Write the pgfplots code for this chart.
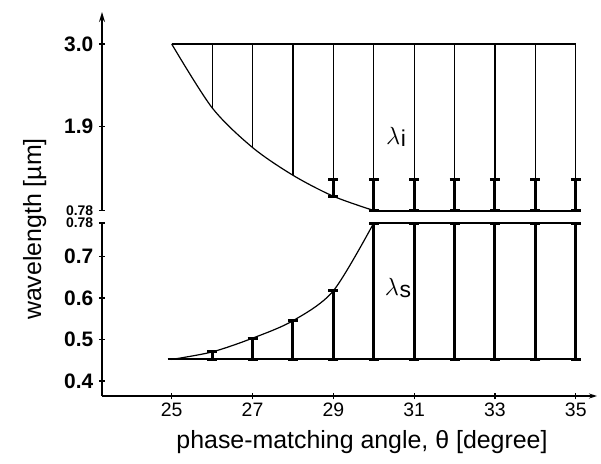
\documentclass[border=0pt]{standalone}
\usepackage{fontspec}
\setmainfont{Liberation Sans}
\usepackage{pgfplots}
\pgfplotsset{compat=1.18}
\usetikzlibrary{arrows.meta}

\pgfplotsset{
  common/.style={
    scale only axis,
    xmin=23.275, xmax=35.525,
    width=495bp,
    clip=false,
    tick align=center,
    major tick length=6.5bp,
    every tick/.style={black, line width=1.3bp},
    axis line style={line width=1.5bp, black},
    yticklabel style={font=\bfseries\fontsize{21}{24}\selectfont, xshift=-2bp},
    xticklabel style={font=\fontsize{19.5}{22}\selectfont},
  },
  ibar/.style={draw=none, mark=none,
    error bars/.cd, y dir=both, y explicit,
    error bar style={draw=black, line width=3bp},
    error mark options={draw=black, rotate=90, mark size=5bp, line width=3bp}},
  vline/.style={draw=none, mark=none,
    error bars/.cd, y dir=minus, y explicit, error mark=none,
    error bar style={draw=black, line width=1.2bp}},
}

\begin{document}
\begin{tikzpicture}[x=1bp,y=1bp]
\path[use as bounding box] (0,0) rectangle (601,-464);

% upper panel: idler
\begin{axis}[common,
  at={(102bp,-210.5bp)}, anchor=south west,
  ymin=0.78, ymax=3.427, height=198.5bp,
  axis x line=none, axis y line=left,
  y axis line style={-{Stealth[length=10bp,width=6bp]}},
  xtick=\empty,
  ytick={0.78,1.9,3.0},
  yticklabels={{\fontsize{14}{15}\selectfont 0.78},1.9,3.0},
]
\addplot[black, line width=1.2bp] coordinates {(25,3.0) (35,3.0)};
\addplot[black, line width=1.2bp, smooth] coordinates {(25,3.0) (26,2.15) (27,1.62) (28,1.25) (29,0.97) (30,0.78)};
\addplot[black, line width=2bp] coordinates {(30,0.78) (35,0.78)};
\addplot[vline] coordinates {
  (26,3.0) -= (0,0.85)
  (27,3.0) -= (0,1.38)
  (28,3.0) -= (0,1.75)
  (29,3.0) -= (0,1.8)
  (30,3.0) -= (0,1.8)
  (31,3.0) -= (0,1.8)
  (32,3.0) -= (0,1.8)
  (33,3.0) -= (0,1.8)
  (34,3.0) -= (0,1.8)
  (35,3.0) -= (0,1.8)
};
\addplot[ibar] coordinates {
  (29,1.085) +- (0,0.115)
  (30,0.99) +- (0,0.21)
  (31,0.99) +- (0,0.21)
  (32,0.99) +- (0,0.21)
  (33,0.99) +- (0,0.21)
  (34,0.99) +- (0,0.21)
  (35,0.99) +- (0,0.21)
};
\node[font=\fontsize{26}{28}\selectfont] at (axis cs:30.55,1.76) {$\lambda$\kern0.5bp\raisebox{-2.5bp}{\fontsize{23}{25}\selectfont i}};
\end{axis}

% lower panel: signal
\begin{axis}[common,
  at={(102bp,-396bp)}, anchor=south west,
  ymin=0.364, ymax=0.78, height=173bp,
  axis x line=bottom, axis y line=left,
  y axis line style={-},
  x axis line style={-{Stealth[length=8bp,width=5bp]}},
  xtick={25,27,29,31,33,35},
  xticklabels={25,27,29,31,33,35},
  ytick={0.4,0.5,0.6,0.7,0.78},
  yticklabels={0.4,0.5,0.6,0.7,{\raisebox{-5bp}{\fontsize{14}{15}\selectfont 0.78}}},
]
\addplot[black, line width=2bp] coordinates {(24.9,0.452) (35,0.452)};
\addplot[black, line width=2bp] coordinates {(30,0.78) (35,0.78)};
\addplot[black, line width=1.2bp, smooth] coordinates {(25,0.452) (26,0.47) (27,0.503) (28,0.545) (29,0.617) (30,0.78)};
\addplot[ibar] coordinates {
  (26,0.461) +- (0,0.009)
  (27,0.4775) +- (0,0.0255)
  (28,0.4985) +- (0,0.0465)
  (29,0.5345) +- (0,0.0825)
  (30,0.616) +- (0,0.164)
  (31,0.616) +- (0,0.164)
  (32,0.616) +- (0,0.164)
  (33,0.616) +- (0,0.164)
  (34,0.616) +- (0,0.164)
  (35,0.616) +- (0,0.164)
};
\node[font=\fontsize{26}{28}\selectfont] at (axis cs:30.6,0.624) {$\lambda$\kern0.5bp\raisebox{-2.5bp}{\fontsize{23}{25}\selectfont s}};
\end{axis}

\node[anchor=base, font=\fontsize{25}{28}\selectfont] at (362bp,-448bp) {phase-matching angle, θ [degree]};
\node[rotate=90, anchor=base, font=\fontsize{25}{28}\selectfont] at (41bp,-229bp) {wavelength [µm]};
\end{tikzpicture}
\end{document}
